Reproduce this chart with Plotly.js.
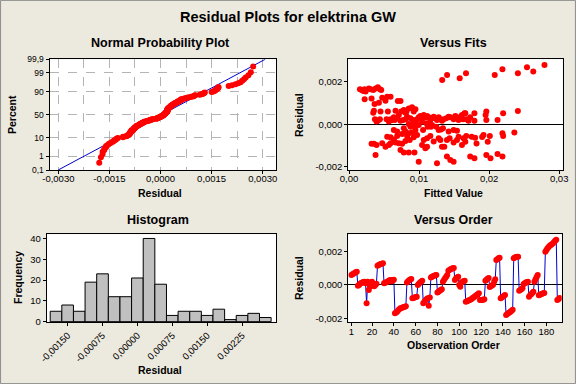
<!DOCTYPE html>
<html>
<head>
<meta charset="utf-8">
<script src="https://cdn.plot.ly/plotly-3.0.1.min.js"></script>
<style>html,body{margin:0;padding:0;background:#ECE9DF;}#chart{width:576px;height:384px;}</style>
</head>
<body>
<div id="chart"></div>
<script>
// ---------- DATA ----------
// Residuals in observation order (Versus Order panel, also Normal Probability Plot)
var residualsByOrder = [
  0.00060, 0.00065, 0.00068, 0.00072, 0.00076, 0.00080,
  -0.00005, 0.00000, 0.00008, 0.00012, 0.00015, 0.00018, 0.00020,
  0.00010, -0.00110, 0.00020, -0.00030, -0.00010, 0.00015, 0.00020, 0.00005, -0.00008, 0.00000, 0.00008,
  0.00115, 0.00120, 0.00123, 0.00126, 0.00128, 0.00130,
  0.00010, 0.00013, 0.00016, 0.00020, 0.00024, 0.00028, 0.00030, 0.00022, 0.00028, 0.00032,
  -0.00170, -0.00165, -0.00160, -0.00152, -0.00145, -0.00140, -0.00138, -0.00135, -0.00132, -0.00130, -0.00128,
  0.00015, 0.00022, 0.00028, 0.00033, 0.00036,
  -0.00080, -0.00078, -0.00075, -0.00072, -0.00070,
  0.00000, 0.00008, 0.00015, 0.00020, 0.00025,
  -0.00110, -0.00100, -0.00092, -0.00085, -0.00080, -0.00125, -0.00075,
  0.00045, 0.00050, 0.00053, 0.00056, 0.00058, 0.00060,
  -0.00045, -0.00040, -0.00035, -0.00030, -0.00025,
  0.00020, 0.00030, 0.00040, 0.00050, 0.00060,
  0.00085, 0.00090, 0.00095, 0.00098, 0.00100, 0.00102,
  0.00030, 0.00040, 0.00045, 0.00050,
  0.00000, -0.00010,
  0.00015, 0.00020, 0.00022, 0.00025,
  -0.00100, -0.00098, -0.00095, -0.00092, -0.00088, -0.00085, -0.00080, -0.00075, -0.00070, -0.00065, -0.00060, -0.00055, -0.00050,
  -0.00090, -0.00090, -0.00088, -0.00088, -0.00085,
  0.00025, 0.00032, 0.00038, 0.00042,
  -0.00012, -0.00008, -0.00003, 0.00002,
  0.00020, 0.00035,
  0.00150, 0.00155, 0.00160, 0.00163,
  -0.00080, -0.00075, -0.00070, -0.00065, -0.00060,
  -0.00180, -0.00175, -0.00170, -0.00165, -0.00160, -0.00155, -0.00148,
  0.00160, 0.00165, 0.00168, 0.00170, 0.00170,
  -0.00035, -0.00030, -0.00025, -0.00020,
  0.00005, 0.00010, 0.00014, 0.00018, 0.00020,
  -0.00070, -0.00062, -0.00055, -0.00048, -0.00040,
  0.00020, 0.00035, 0.00048, 0.00060,
  -0.00062, -0.00058, -0.00055, -0.00052, -0.00050, -0.00048,
  0.00200, 0.00210, 0.00220, 0.00228, 0.00235, 0.00240, 0.00245, 0.00250, 0.00258, 0.00265, 0.00272,
  -0.00090, -0.00085, -0.00078
];

// Versus Fits panel: fitted values and residuals
var fittedValues = [
  0.00156,0.0018,0.00204,0.00223,0.00237,0.00284,0.00308,0.00346,0.00379,0.00412,0.00441,0.0046,
  0.00223,0.00322,0.00365,0.00427,0.00474,0.00545,0.00593,0.00521,0.00697,0.00735,
  0.00346,0.00356,0.0037,0.00393,0.0045,0.00441,0.00412,0.00555,0.00536,0.00569,0.00593,0.00616,0.0064,0.00664,
  0.00711,0.00744,0.00782,0.0082,0.00853,0.0083,0.00806,0.00773,0.00735,0.00687,0.00654,
  0.00877,0.00915,0.00948,0.00972,0.00995,0.01019,0.01043,0.01067,0.0109,0.01114,0.01138,0.01161,0.01185,0.01209,
  0.01232,0.01256,0.0128,0.01304,0.01327,0.01351,0.01389,0.01422,0.01446,0.01493,0.01517,0.01541,0.01564,0.01588,
  0.01612,0.01626,0.0165,0.01673,0.01706,0.0173,
  0.01152,0.01171,0.01104,0.00995,0.00948,0.009,0.00853,0.01043,0.00948,0.009,0.00924,0.00806,
  0.00322,0.00356,0.00393,0.00474,0.00379,0.00545,0.00593,0.0064,0.00687,0.00569,0.00521,0.00593,0.00664,0.00711,
  0.00758,0.00806,0.00867,0.00758,0.00806,0.00853,0.009,0.00948,0.00924,0.00972,0.0083,0.00877,0.00782,0.00687,0.0064,
  0.00735,0.00782,0.00853,0.00934,0.00995,0.01043,0.01067,0.01114,0.01161,0.0109,0.01114,0.01057,0.01123,0.01185,
  0.01247,0.0128,0.01313,0.01341,0.0128,0.01304,0.01209,0.01327,0.0136,0.01398,0.01446,0.01493,0.01256,
  0.01398,0.01436,0.01493,0.01541,0.01564,0.01612,0.01635,0.01673,0.01422,0.01493,0.01541,
  0.0166,0.0179,0.0196,0.0220,0.0241,0.0179,0.0196,0.0212,0.0195,0.0236,0.0219,0.0220,0.0192,0.0190,0.0201,
  0.0198,0.0180,0.0175,0.0182,0.0166,0.0173,0.0179,0.0196,0.0202,0.0212,0.0219,
  0.0133,0.0140,0.0158,0.0167,0.0208,0.0219,0.0241,0.0254,0.0263,0.0279
];
var fitResiduals = [
  0.00165,0.00161,0.00157,0.00165,0.00155,0.00169,0.00165,0.00161,0.00168,0.00174,0.00165,0.00161,
  0.00118,0.00122,0.00096,0.00102,0.00125,0.0013,0.0013,0.00111,0.0011,0.0011,
  0.00055,0.00064,0.00024,0.00013,0.0006,0.00024,0.00017,0.0006,0.00024,0.00013,0.00024,0.0002,0.00033,0.00064,
  0.00044,0.0006,0.00067,0.0006,0.00075,0.00036,0.00024,0.0002,0.00017,0.00028,0.0002,
  0.00028,0.0002,0.00013,0.00024,0.00033,0.00039,0.00033,0.00044,0.00033,0.00039,0.00033,0.0002,0.00028,0.00036,
  0.00028,0.0002,0.00033,0.00024,0.00017,0.00024,0.00028,0.00036,0.00033,0.00024,0.00039,0.00033,0.0002,0.00033,
  0.00044,0.00024,0.00052,0.00024,0.00017,0.00033,
  -0.00003,-0.00011,0.00005,-0.00003,-0.00011,0.0,0.00002,0.00013,0.00071,0.0008,0.0006,0.00055,
  -0.00092,-0.00092,-0.00097,-0.00089,-0.00144,-0.00058,-0.00061,-0.00071,-0.00055,-0.00097,-0.00105,-0.00089,-0.00086,-0.00089,
  -0.00092,-0.00078,-0.00074,-0.00045,-0.00034,-0.00042,-0.00039,-0.00027,-0.00061,-0.0005,-0.00055,-0.00011,-0.00019,-0.00034,-0.00027,
  -0.00121,-0.00133,-0.00133,-0.00133,-0.00176,-0.00097,-0.00074,-0.00066,-0.00055,-0.00113,-0.00105,-0.00027,-0.00011,-0.00003,
  -0.00011,-0.00027,-0.00024,-0.00019,-0.00066,-0.00074,-0.00081,-0.00105,-0.00105,-0.00152,-0.00168,-0.00176,-0.00183,
  -0.00074,-0.00066,-0.00086,-0.00074,-0.00058,-0.00097,-0.00066,-0.00055,-0.00034,-0.00027,-0.0003,
  0.00052,0.00052,0.0006,0.00052,0.00063,0.00017,0.0002,0.0002,0.00044,-0.00038,-0.00042,-0.00055,-0.0005,-0.0006,-0.00055,
  -0.00082,-0.00063,-0.00058,-0.0009,-0.00082,-0.00152,-0.0016,-0.00144,-0.0016,-0.0014,-0.00152,
  0.00209,0.00232,0.00217,0.0024,0.00232,0.00259,0.0024,0.00268,0.00249,0.00279
];

// Histogram of residuals: bin centres and counts
var histBinCenters = [-0.00175,-0.0015,-0.00125,-0.001,-0.00075,-0.0005,-0.00025,0,0.00025,0.0005,0.00075,0.001,0.00125,0.0015,0.00175,0.002,0.00225,0.0025,0.00275];
var histCounts = [5,8,5,19,23,12,12,21,40,18,3,5,5,3,6,1,3,4,2];

// Tick labels
var npXTickVals = [-0.003,-0.0015,0,0.0015,0.003];
var npXTickText = ["-0,0030","-0,0015","0,0000","0,0015","0,0030"];
var npPercentTicks = [0.1,1,10,50,90,99,99.9];
var npPercentText = ["0,1","1","10","50","90","99","99,9"];
var residTickVals = [-0.002,0,0.002];
var residTickText = ["-0,002","0,000","0,002"];
var fitXTickVals = [0,0.01,0.02,0.03];
var fitXTickText = ["0,00","0,01","0,02","0,03"];
var histXTickVals = [-0.0015,-0.00075,0,0.00075,0.0015,0.00225];
var histXTickText = ["-0,00150","-0,00075","0,00000","0,00075","0,00150","0,00225"];
var histYTickVals = [0,10,20,30,40];
var orderTickVals = [1,20,40,60,80,100,120,140,160,180];

// ---------- helpers ----------
function invNorm(p){
  var a=[-3.969683028665376e+01,2.209460984245205e+02,-2.759285104469687e+02,1.383577518672690e+02,-3.066479806614716e+01,2.506628277459239e+00];
  var b=[-5.447609879822406e+01,1.615858368580409e+02,-1.556989798598866e+02,6.680131188771972e+01,-1.328068155288572e+01];
  var c=[-7.784894002430293e-03,-3.223964580411365e-01,-2.400758277161838e+00,-2.549732539343734e+00,4.374664141464968e+00,2.938163982698783e+00];
  var d=[7.784695709041462e-03,3.224671290700398e-01,2.445134137142996e+00,3.754408661907416e+00];
  var pl=0.02425,q,r;
  if(p<pl){q=Math.sqrt(-2*Math.log(p));return (((((c[0]*q+c[1])*q+c[2])*q+c[3])*q+c[4])*q+c[5])/((((d[0]*q+d[1])*q+d[2])*q+d[3])*q+1);}
  if(p>1-pl){q=Math.sqrt(-2*Math.log(1-p));return -(((((c[0]*q+c[1])*q+c[2])*q+c[3])*q+c[4])*q+c[5])/((((d[0]*q+d[1])*q+d[2])*q+d[3])*q+1);}
  q=p-0.5;r=q*q;
  return (((((a[0]*r+a[1])*r+a[2])*r+a[3])*r+a[4])*r+a[5])*q/(((((b[0]*r+b[1])*r+b[2])*r+b[3])*r+b[4])*r+1);
}

var n = residualsByOrder.length;
var sorted = residualsByOrder.slice().sort(function(a,b){return a-b;});
var zScores = sorted.map(function(v,i){return invNorm((i+1-0.3)/(n+0.4));});
var mean = residualsByOrder.reduce(function(s,v){return s+v;},0)/n;
var sd = Math.sqrt(residualsByOrder.reduce(function(s,v){return s+(v-mean)*(v-mean);},0)/(n-1));
var zLo = invNorm(0.001), zHi = invNorm(0.999);
var obsIndex = residualsByOrder.map(function(v,i){return i+1;});

var RED = '#FF0000', BLUE = '#0000CC';
var FONT = 'Liberation Sans, Arial, sans-serif';
var tickFont = {family: FONT, size: 9.5, color: '#000'};

var traces = [
  {x:[mean+sd*zLo, mean+sd*zHi], y:[zLo, zHi], xaxis:'x', yaxis:'y', mode:'lines', line:{color:BLUE, width:1}, hoverinfo:'skip'},
  {x:sorted, y:zScores, xaxis:'x', yaxis:'y', mode:'markers', marker:{color:RED, size:6}},
  {x:fittedValues, y:fitResiduals, xaxis:'x2', yaxis:'y2', mode:'markers', marker:{color:RED, size:6}},
  {x:histBinCenters, y:histCounts, xaxis:'x3', yaxis:'y3', type:'bar', width:0.00025,
   marker:{color:'#C0C0C0', line:{color:'#000', width:1}}},
  {x:obsIndex, y:residualsByOrder, xaxis:'x4', yaxis:'y4', mode:'lines+markers',
   line:{color:BLUE, width:1}, marker:{color:RED, size:6}}
];

function ax(opts){
  var base = {showline:true, mirror:true, linecolor:'#000', linewidth:1, ticks:'outside', ticklen:3, tickcolor:'#000',
    tickfont:tickFont, zeroline:false, showgrid:false, fixedrange:true, tickmode:'array'};
  for (var k in opts) base[k]=opts[k];
  return base;
}
var W=576, H=384;
function px(x){return x/W;} function py(y){return 1-y/H;}

var layout = {
  width:W, height:H, autosize:false, showlegend:false,
  margin:{l:0,r:0,t:0,b:0}, paper_bgcolor:'#ECE9DF', plot_bgcolor:'#FFFFFF',
  font:{family:FONT, color:'#000'},
  xaxis: ax({domain:[px(49.5),px(276)], anchor:'y', range:[-0.00326,0.00339], tickvals:npXTickVals, ticktext:npXTickText,
    ticklabelstandoff:-3,
    showgrid:true, gridcolor:'#B4B4B4', griddash:'dash', gridwidth:1,
    minor:{tickmode:'linear', tick0:0, dtick:0.00075, showgrid:true, gridcolor:'#B4B4B4', griddash:'dash', ticks:''}}),
  yaxis: ax({domain:[py(170),py(59.3)], anchor:'x', range:[zLo,zHi],
    tickvals:npPercentTicks.map(function(p){return invNorm(p/100);}), ticktext:npPercentText,
    showgrid:true, gridcolor:'#B4B4B4', griddash:'dash', gridwidth:1, tickfont:{family:FONT,size:8.5,color:'#000'}}),
  xaxis2: ax({domain:[px(348.3),px(562.7)], anchor:'y2', range:[-0.0001,0.0305], tickvals:fitXTickVals, ticktext:fitXTickText,
    ticklabelstandoff:-3}),
  yaxis2: ax({domain:[py(170),py(59.3)], anchor:'x2', range:[-0.00215,0.00306], tickvals:residTickVals, ticktext:residTickText,
    zeroline:true, zerolinecolor:'#000', zerolinewidth:1}),
  xaxis3: ax({domain:[px(46.7),px(276)], anchor:'y3', range:[-0.00195,0.00298], tickvals:histXTickVals, ticktext:histXTickText, tickangle:-45}),
  yaxis3: ax({domain:[py(322.3),py(234.3)], anchor:'x3', range:[-0.3,42], tickvals:histYTickVals, ticktext:histYTickVals.map(String)}),
  xaxis4: ax({domain:[px(348.3),px(561.7)], anchor:'y4', range:[-1.8,194], tickvals:orderTickVals, ticktext:orderTickVals.map(String),
    ticklabelstandoff:-3}),
  yaxis4: ax({domain:[py(322.3),py(234.3)], anchor:'x4', range:[-0.00224,0.00304], tickvals:residTickVals, ticktext:residTickText,
    zeroline:true, zerolinecolor:'#000', zerolinewidth:1}),
  bargap:0,
  shapes:[{type:'rect', xref:'paper', yref:'paper', x0:0.001, x1:0.999, y0:0.001, y1:0.999, line:{color:'#8C8C8C', width:1}}],
  annotations:[]
};
function ann(text,x,y,size,angle){
  layout.annotations.push({text:'<b>'+text+'</b>', xref:'paper', yref:'paper', x:px(x), y:py(y), xanchor:'center', yanchor:'middle',
    showarrow:false, textangle:angle||0, font:{family:FONT, size:size, color:'#000'}});
}
ann('Residual Plots for elektrina GW', 288, 17, 14.5);
ann('Normal Probability Plot', 160, 43, 12.5);
ann('Versus Fits', 453, 43, 12.5);
ann('Histogram', 158, 220, 12.5);
ann('Versus Order', 453, 220, 12.5);
ann('Residual', 160, 193, 10.5);
ann('Percent', 12, 115, 10.5, -90);
ann('Fitted Value', 453, 193, 10.5);
ann('Residual', 299, 115, 10.5, -90);
ann('Frequency', 18, 278, 10.5, -90);
ann('Residual', 160, 370, 10.5);
ann('Residual', 299, 278, 10.5, -90);
ann('Observation Order', 453, 345, 10.5);

Plotly.newPlot('chart', traces, layout, {staticPlot:true, displayModeBar:false});
</script>
</body>
</html>
